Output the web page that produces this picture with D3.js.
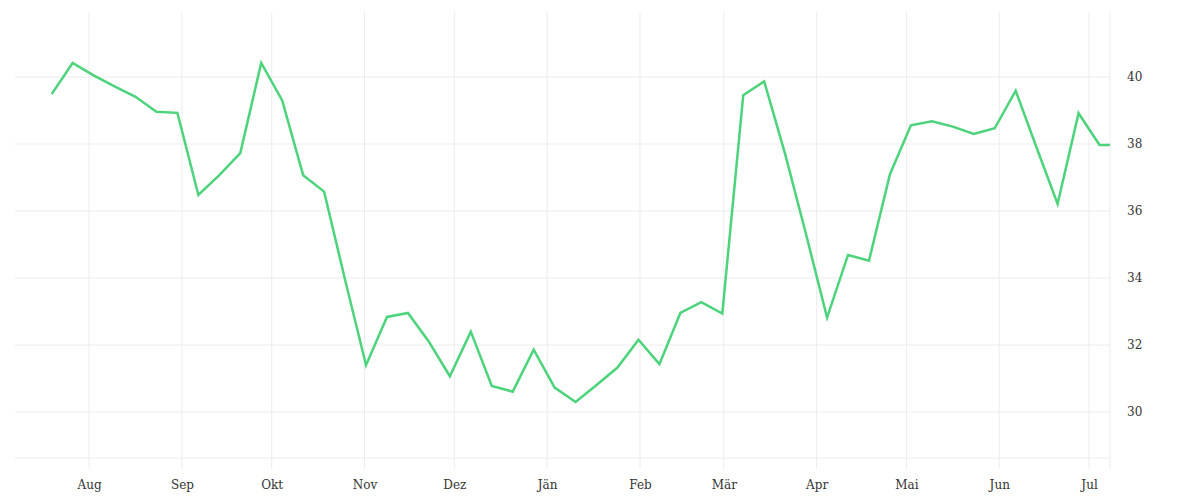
<!DOCTYPE html>
<html>
<head>
<meta charset="utf-8">
<script src="https://cdn.jsdelivr.net/npm/d3@7"></script>
<style>
  body { margin: 0; background: #fff; }
  .axis text { font-family: "DejaVu Serif", serif; font-size: 12px; fill: #333; }
  .axis path, .axis .tick line { display: none; }
</style>
</head>
<body>
<div id="chart"></div>
<script>
// weekly values, first week starts 19 Jul 2022
var startDate = new Date(2022, 6, 19, 12);
var weeklyValues = [
  39.49, 40.42, 40.05, 39.72, 39.41, 38.96, 38.93, 36.48, 37.07, 37.73,
  40.42, 39.30, 37.07, 36.58, 33.95, 31.40, 32.84, 32.96, 32.10, 31.07,
  32.40, 30.78, 30.61, 31.86, 30.73, 30.30, 30.81, 31.33, 32.16, 31.43,
  32.96, 33.28, 32.94, 39.46, 39.87, 37.70, 35.30, 32.82, 34.69, 34.52,
  37.10, 38.56, 38.68, 38.52, 38.30, 38.47, 39.59, 37.89, 36.21, 38.92,
  37.97
];
// last value carried to the end of the range
var endDate = new Date(2023, 6, 8);
var endValue = 37.97;

var monthLabels = ["Aug", "Sep", "Okt", "Nov", "Dez", "Jän", "Feb", "Mär", "Apr", "Mai", "Jun", "Jul"];
var yTicks = [30, 32, 34, 36, 38, 40];

var width = 1200, height = 500;
var margin = {top: 12, right: 90, bottom: 42, left: 15};

var data = [];
for (var i = 0; i < weeklyValues.length; i++) {
  data.push({date: d3.timeDay.offset(startDate, 7 * i), value: weeklyValues[i]});
}
data.push({date: endDate, value: endValue});

var x = d3.scaleTime()
  .domain([new Date(2022, 6, 7, 6), endDate])
  .range([margin.left, width - margin.right]);
var y = d3.scaleLinear()
  .domain([28.63, 41.94])
  .range([height - margin.bottom, margin.top]);

var svg = d3.select("#chart").append("svg")
  .attr("width", width)
  .attr("height", height);

var monthTicks = d3.timeMonth.range(new Date(2022, 7, 1), new Date(2023, 6, 2));

// grid
var grid = svg.append("g").attr("class", "grid");
grid.selectAll("line.v")
  .data(monthTicks)
  .enter().append("line")
  .attr("class", "v")
  .attr("x1", function(d) { return x(d); })
  .attr("x2", function(d) { return x(d); })
  .attr("y1", margin.top)
  .attr("y2", height - margin.bottom + 11)
  .attr("stroke", "#ececec");
grid.selectAll("line.h")
  .data(yTicks)
  .enter().append("line")
  .attr("class", "h")
  .attr("x1", margin.left)
  .attr("x2", width - margin.right)
  .attr("y1", function(d) { return y(d); })
  .attr("y2", function(d) { return y(d); })
  .attr("stroke", "#ececec");
// frame: bottom and right
grid.append("line")
  .attr("x1", margin.left).attr("x2", width - margin.right)
  .attr("y1", height - margin.bottom).attr("y2", height - margin.bottom)
  .attr("stroke", "#ececec");
grid.append("line")
  .attr("x1", width - margin.right).attr("x2", width - margin.right)
  .attr("y1", margin.top).attr("y2", height - margin.bottom + 11)
  .attr("stroke", "#ececec");

// axes
var xAxis = d3.axisBottom(x)
  .tickValues(monthTicks)
  .tickFormat(function(d, i) { return monthLabels[i]; })
  .tickSize(0)
  .tickPadding(22);
svg.append("g")
  .attr("class", "axis x_axis")
  .attr("transform", "translate(0," + (height - margin.bottom) + ")")
  .call(xAxis);

var yAxis = d3.axisRight(y)
  .tickValues(yTicks)
  .tickSize(0)
  .tickPadding(17);
svg.append("g")
  .attr("class", "axis y_axis")
  .attr("transform", "translate(" + (width - margin.right) + ",0)")
  .call(yAxis);

// line
var line = d3.line()
  .x(function(d) { return x(d.date); })
  .y(function(d) { return y(d.value); });
svg.append("path")
  .datum(data)
  .attr("fill", "none")
  .attr("stroke", "#4cd37b")
  .attr("stroke-width", 2.5)
  .attr("stroke-linejoin", "miter")
  .attr("d", line);
</script>
</body>
</html>
